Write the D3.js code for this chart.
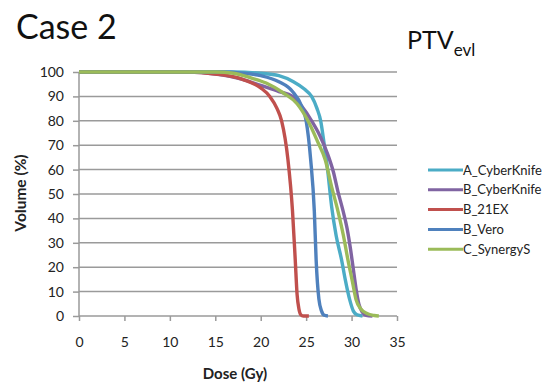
<!DOCTYPE html>
<html>
<head>
<meta charset="utf-8">
<script src="https://cdn.jsdelivr.net/npm/d3@7"></script>
<style>
  body { margin: 0; background: #fff; }
  svg { font-family: Lato, "Open Sans", sans-serif; }
</style>
</head>
<body>
<svg id="chart" width="552" height="388"></svg>
<script>
// series names and colours
var seriesNames = ["A_CyberKnife", "B_CyberKnife", "B_21EX", "B_Vero", "C_SynergyS"];
var seriesColors = ["#4bacc6", "#8064a2", "#c0504d", "#4f81bd", "#9bbb59"];

// dose-volume points [dose Gy, volume %]
var aCyberKnife = [[0,100],[17,100],[20,99.5],[22,98.5],[23.6,96],[24.8,93],[25.6,90],[26.2,85],[26.6,80],[27,70],[27.3,62],[27.8,45],[28.3,33],[28.9,23],[29.3,15],[29.8,6.6],[30.2,2],[30.6,0.5],[31.2,0]];
var bCyberKnife = [[0,100],[12,100],[15,99.2],[18,97],[20,94.5],[22,92],[23.5,90],[24.5,86],[25.6,80],[26.5,74],[27.3,67],[28,59],[28.5,51],[29,44],[29.5,36],[29.9,27],[30.2,19],[30.5,11],[30.8,5],[31.2,1.5],[31.6,0.3],[32.3,0]];
var b21EX = [[0,100],[12,100],[15,99.2],[18,97],[20,93.5],[21,90],[21.8,85],[22.3,80],[23,64],[23.5,43],[23.8,23],[24,9],[24.2,3],[24.4,0.6],[24.7,0],[25.3,0]];
var bVero = [[0,100],[16,100],[18,99.5],[20,98.5],[22,96],[23.5,92],[24.5,86],[25,80],[25.5,64],[25.9,43],[26.1,23],[26.4,7],[26.7,2],[27,0.3],[27.4,0]];
var cSynergyS = [[0,100],[15,100],[17,99.5],[19,97.5],[20.6,95.5],[22.5,91.4],[24,87],[25.2,80],[26.2,72],[27.1,64],[27.8,53],[28.5,43],[29.1,33],[29.6,23],[30.1,14],[30.5,6.6],[31,3],[31.7,1],[32.5,0.2],[33,0]];
var seriesData = [aCyberKnife, bCyberKnife, b21EX, bVero, cSynergyS];

var xTicks = [0, 5, 10, 15, 20, 25, 30, 35];
var yTicks = [0, 10, 20, 30, 40, 50, 60, 70, 80, 90, 100];

var svg = d3.select("#chart");
var margin = { left: 79, top: 72, right: 155, bottom: 72 };
var width = 552 - margin.left - margin.right,
    height = 388 - margin.top - margin.bottom;

var x = d3.scaleLinear().domain([0, 35]).range([0, width]);
var y = d3.scaleLinear().domain([0, 100]).range([height, 0]);

var g = svg.append("g")
  .attr("transform", "translate(" + margin.left + "," + margin.top + ")");

// titles
svg.append("text").attr("x", 16).attr("y", 39)
  .attr("font-size", 34).attr("fill", "#111").text("Case 2");
var ptv = svg.append("text").attr("x", 407).attr("y", 49)
  .attr("font-size", 25).attr("fill", "#111");
ptv.append("tspan").text("PTV");
ptv.append("tspan").attr("dy", 7).attr("font-size", 17).text("evl");

// gridlines
g.selectAll(".grid").data(yTicks.filter(function (d) { return d > 0; }))
  .enter().append("line")
  .attr("x1", 0).attr("x2", width)
  .attr("y1", function (d) { return y(d); })
  .attr("y2", function (d) { return y(d); })
  .attr("stroke", "#9a9a9a").attr("stroke-width", 1.5);

// y axis
var yAxis = g.append("g")
  .call(d3.axisLeft(y).tickValues(yTicks).tickSize(6).tickPadding(9));
// x axis
var xAxis = g.append("g")
  .attr("transform", "translate(0," + height + ")")
  .call(d3.axisBottom(x).tickValues(xTicks).tickSize(5).tickPadding(16));

[yAxis, xAxis].forEach(function (ax) {
  ax.select(".domain").attr("stroke", "#9a9a9a").attr("stroke-width", 1.5);
  ax.selectAll(".tick line").attr("stroke", "#9a9a9a").attr("stroke-width", 1.5);
  ax.selectAll(".tick text").attr("font-size", 14).attr("fill", "#222")
    .attr("font-family", "Lato, 'Open Sans', sans-serif");
});
yAxis.select(".domain").attr("d", "M0," + height + "V0");
xAxis.select(".domain").attr("d", "M0,0H" + width);

// axis titles
svg.append("text")
  .attr("transform", "translate(26," + 193 + ") rotate(-90)")
  .attr("text-anchor", "middle").attr("font-size", 15.5).attr("font-weight", "bold")
  .attr("fill", "#222").text("Volume (%)");
svg.append("text")
  .attr("x", 235).attr("y", 379)
  .attr("text-anchor", "middle").attr("font-size", 15).attr("font-weight", "bold")
  .attr("fill", "#222").text("Dose (Gy)");

// curves
var line = d3.line()
  .x(function (d) { return x(d[0]); })
  .y(function (d) { return y(d[1]); })
  .curve(d3.curveMonotoneX);

g.selectAll(".curve").data(seriesData)
  .enter().append("path")
  .attr("d", line)
  .attr("fill", "none")
  .attr("stroke", function (d, i) { return seriesColors[i]; })
  .attr("stroke-width", 3.4)
  .attr("stroke-linejoin", "round");

// legend
var legend = svg.selectAll(".legend").data(seriesNames)
  .enter().append("g")
  .attr("transform", function (d, i) { return "translate(428," + (170 + i * 19.8) + ")"; });
legend.append("line")
  .attr("x1", 0).attr("x2", 35)
  .attr("stroke", function (d, i) { return seriesColors[i]; })
  .attr("stroke-width", 3);
legend.append("text")
  .attr("x", 35).attr("dy", "0.35em")
  .attr("font-size", 13).attr("fill", "#222")
  .text(function (d) { return d; });
</script>
</body>
</html>
